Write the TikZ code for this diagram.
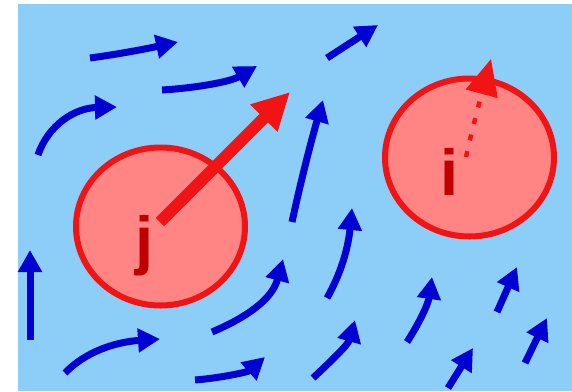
\documentclass[tikz,border=0pt]{standalone}
\usepackage{fontspec}
\setmainfont{Liberation Sans}
\usepackage{tikz}
\usetikzlibrary{arrows.meta,shapes.geometric}
\definecolor{flsky}    {HTML}{8CCEF8}
\definecolor{flblue}   {HTML}{0000D2}
\definecolor{flred}    {HTML}{F01414}
\definecolor{flpink}   {HTML}{FF8484}
\definecolor{flmaroon} {HTML}{C00000}
\tikzset{
  flpart/.style={ellipse, draw=flred, fill=flpink, line width=6pt,
                 minimum width=169pt, minimum height=158pt, inner sep=0pt},
  flletter/.style={text=flmaroon, font=\fontsize{65}{70}\selectfont\bfseries,
                   inner sep=0pt, anchor=base},
  flflow/.style={draw=flblue, line width=7pt,
                 -{Triangle[length=22pt,width=23pt]}},
  flforce/.style={draw=flred, line width=12pt,
                  -{Triangle[length=37pt,width=36pt]}},
  flweak/.style={draw=flred, line width=4.5pt, dash pattern=on 6pt off 11pt,
                 -{Triangle[length=36pt,width=32pt]}},
}
\begin{document}
\begin{tikzpicture}[x=1pt,y=-1pt]
  \useasboundingbox (0,0) rectangle (572,391);
  \fill[flsky] (18,4) rectangle (572,391);
  % particles
  \node[flpart] (pj) at (160.5,226.5) {};
  \node[flpart] (pi) at (469.5,157.5) {};
  \node[flletter] (lj) at (145,262) {j};
  \node[flletter] (li) at (450,195) {i};
  \coordinate (fj) at (290,92);
  \coordinate (fi) at (491,59);
  \draw[flforce] (160,222) -- (fj);
  \draw[flweak] (466,157) .. controls (472,130) and (480,100) .. (fi);
  % flow field
  \draw[flflow] (90,58) .. controls (120,54) and (150,48) .. (178,42);
  \draw[flflow] (162,90) .. controls (195,88) and (230,82) .. (257,66);
  \draw[flflow] (38,155) .. controls (48,125) and (75,108) .. (117,107);
  \draw[flflow] (327,58) -- (378,25);
  \draw[flflow] (292,222) .. controls (300,185) and (310,145) .. (323,100);
  \draw[flflow] (30,340) -- (30,250);
  \draw[flflow] (65,373) .. controls (85,352) and (115,342) .. (160,339);
  \draw[flflow] (212,332) .. controls (245,318) and (272,300) .. (283,259);
  \draw[flflow] (195,380) .. controls (220,378) and (248,372) .. (265,357);
  \draw[flflow] (327,298) .. controls (340,275) and (348,250) .. (352,208);
  \draw[flflow] (313,378) .. controls (330,362) and (348,345) .. (355,320);
  \draw[flflow] (407,342) .. controls (418,325) and (428,305) .. (432,277);
  \draw[flflow] (448,388) -- (473,348);
  \draw[flflow] (497,312) -- (517,267);
  \draw[flflow] (525,363) -- (547,318);
\end{tikzpicture}
\end{document}
